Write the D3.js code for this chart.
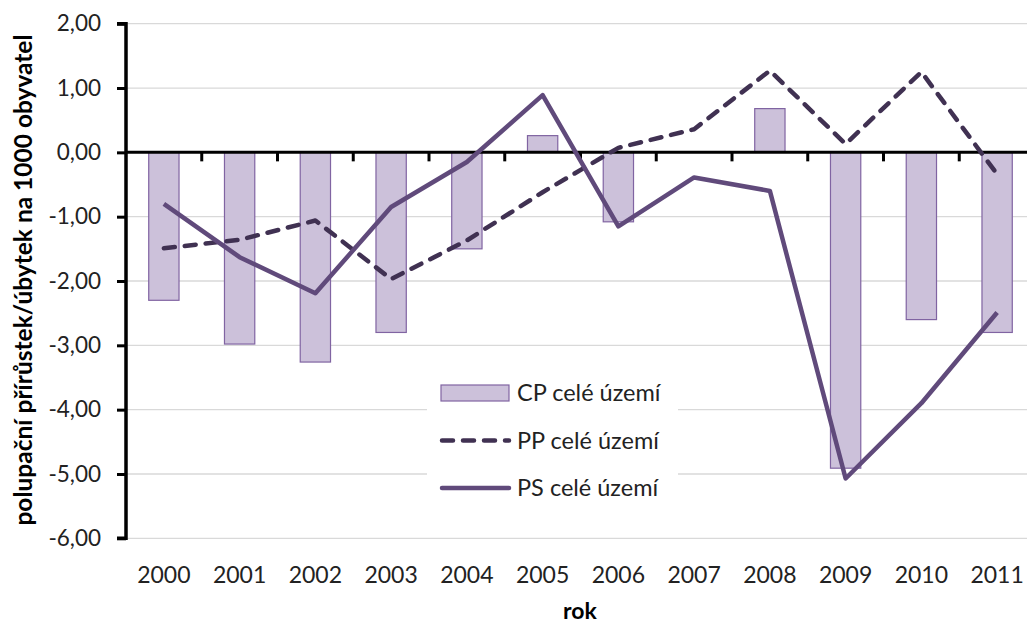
<!DOCTYPE html>
<html>
<head>
<meta charset="utf-8">
<script src="https://cdn.jsdelivr.net/npm/d3@7"></script>
<style>
  body { margin: 0; background: #fff; }
  svg { display: block; font-family: Lato, "Open Sans", sans-serif; }
</style>
</head>
<body>
<svg id="chart" width="1027" height="624"></svg>
<script>
const years = ["2000","2001","2002","2003","2004","2005","2006","2007","2008","2009","2010","2011"];
// CP celé území (bars)
const cpValues = [-2.30, -2.98, -3.26, -2.80, -1.50, 0.26, -1.08, null, 0.68, -4.91, -2.60, -2.80];
// PP celé území (dashed line)
const ppValues = [-1.49, -1.36, -1.06, -1.97, -1.37, -0.62, 0.07, 0.36, 1.27, 0.13, 1.25, -0.34];
// PS celé území (solid line)
const psValues = [-0.80, -1.63, -2.19, -0.85, -0.15, 0.89, -1.15, -0.39, -0.60, -5.07, -3.90, -2.49];
const yTicks = [2, 1, 0, -1, -2, -3, -4, -5, -6];
const legendLabels = ["CP celé území", "PP celé území", "PS celé území"];

const svg = d3.select("#chart");
const plotLeft = 126, plotRight = 1035, plotTop = 23.7, plotBottom = 538.3;

const x = d3.scaleBand().domain(years).range([plotLeft, plotRight]).paddingInner(0.6).paddingOuter(0.3);
const xBand = d3.scaleBand().domain(years).range([plotLeft, plotRight]);
const y = d3.scaleLinear().domain([-6, 2]).range([plotBottom, plotTop]);
const czLocale = d3.formatLocale({ decimal: ",", thousands: " ", grouping: [3], currency: ["", " Kč"], minus: "-" });
const fmt = czLocale.format(".2f");

// gridlines
svg.append("g").selectAll("line").data(yTicks.filter(d => d !== 0)).enter().append("line")
  .attr("x1", plotLeft).attr("x2", 1027)
  .attr("y1", d => y(d)).attr("y2", d => y(d))
  .attr("stroke", "#d9d9d9").attr("stroke-width", 1.3);

// bars
svg.append("g").selectAll("rect").data(years.map((yr, i) => ({ yr, v: cpValues[i] })).filter(d => d.v !== null))
  .enter().append("rect")
  .attr("x", d => x(d.yr))
  .attr("width", x.bandwidth())
  .attr("y", d => y(Math.max(0, d.v)))
  .attr("height", d => Math.abs(y(d.v) - y(0)))
  .attr("fill", "#ccc1da").attr("stroke", "#8064a2").attr("stroke-width", 1.2);

// x axis at zero
const xAxis = svg.append("g").attr("transform", `translate(0,${y(0)})`);
xAxis.append("line").attr("x1", plotLeft).attr("x2", 1027).attr("stroke", "#000").attr("stroke-width", 3);
xAxis.selectAll(".tk").data(years.slice(1)).enter().append("line")
  .attr("x1", d => xBand(d)).attr("x2", d => xBand(d))
  .attr("y1", 0).attr("y2", 9).attr("stroke", "#000").attr("stroke-width", 3);

// lines
const cx = d => x(d) + x.bandwidth() / 2;
const lineGen = d3.line().x((d, i) => cx(years[i])).y(d => y(d));
svg.append("path").datum(ppValues).attr("d", lineGen)
  .attr("fill", "none").attr("stroke", "#403152").attr("stroke-width", 4.5)
  .attr("stroke-dasharray", "11,10").attr("stroke-linecap", "round").attr("stroke-linejoin", "round");
svg.append("path").datum(psValues).attr("d", lineGen)
  .attr("fill", "none").attr("stroke", "#604a7b").attr("stroke-width", 4.5)
  .attr("stroke-linejoin", "round");

// y axis
const yAxis = svg.append("g").attr("transform", `translate(${plotLeft},0)`)
  .call(d3.axisLeft(y).tickValues(yTicks).tickSize(9).tickPadding(16).tickFormat(fmt));
yAxis.select(".domain").attr("stroke", "#000").attr("stroke-width", 3.5).attr("d", `M-9,${plotTop}H0V${plotBottom}H-9`);
yAxis.selectAll(".tick line").attr("stroke", "#000").attr("stroke-width", 3);
yAxis.selectAll("text").attr("font-size", 22.5).attr("fill", "#222").attr("font-family", "Lato, sans-serif");

// x labels
svg.append("g").selectAll("text").data(years).enter().append("text")
  .attr("x", d => cx(d)).attr("y", 583)
  .attr("text-anchor", "middle").attr("font-size", 23).attr("fill", "#222")
  .text(d => d);

// axis titles
svg.append("text").attr("x", 580).attr("y", 619).attr("text-anchor", "middle")
  .attr("font-size", 23).attr("font-weight", "bold").attr("fill", "#000").text("rok");
svg.append("text").attr("transform", "translate(32,280) rotate(-90)").attr("text-anchor", "middle")
  .attr("font-size", 24.5).attr("font-weight", "bold").attr("fill", "#000")
  .text("polupační přírůstek/úbytek na 1000 obyvatel");

// legend
const lg = svg.append("g");
lg.append("rect").attr("x", 427).attr("y", 368).attr("width", 251).attr("height", 140).attr("fill", "#fff");
const rowY = [393, 440.5, 488];
lg.append("rect").attr("x", 441).attr("y", rowY[0] - 8).attr("width", 68).attr("height", 16)
  .attr("fill", "#ccc1da").attr("stroke", "#8064a2").attr("stroke-width", 1.2);
lg.append("line").attr("x1", 442).attr("x2", 509).attr("y1", rowY[1]).attr("y2", rowY[1])
  .attr("stroke", "#403152").attr("stroke-width", 4.5).attr("stroke-dasharray", "11,10").attr("stroke-linecap", "round");
lg.append("line").attr("x1", 442).attr("x2", 509).attr("y1", rowY[2]).attr("y2", rowY[2])
  .attr("stroke", "#604a7b").attr("stroke-width", 4.5).attr("stroke-linecap", "round");
lg.selectAll(".lt").data(legendLabels).enter().append("text")
  .attr("x", 517).attr("y", (d, i) => rowY[i] + 8)
  .attr("font-size", 23.5).attr("fill", "#222").text(d => d);
</script>
</body>
</html>
